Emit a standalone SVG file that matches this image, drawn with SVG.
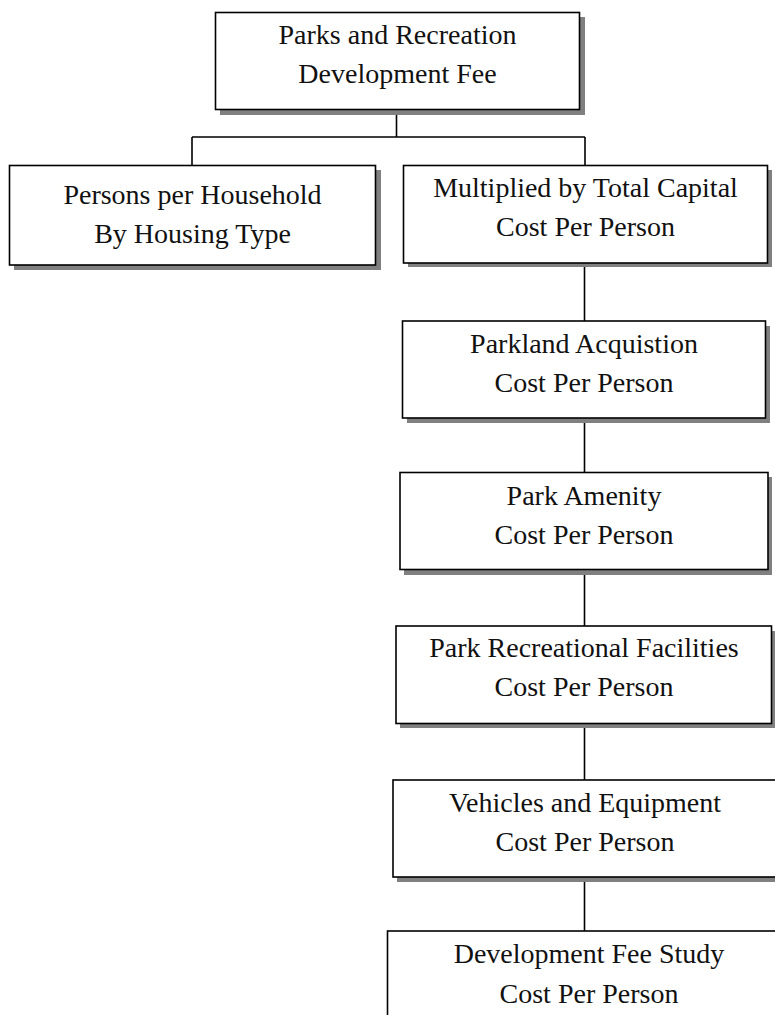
<svg xmlns="http://www.w3.org/2000/svg" width="775" height="1015" viewBox="0 0 775 1015">
  <style>
    .box { fill: #ffffff; stroke: #000000; stroke-width: 1.6; }
    .shadow { fill: #808080; }
    .label { font-family: "Liberation Serif", "Times New Roman", serif; font-size: 28px; fill: #111111; text-anchor: middle; }
    .wire { fill: none; stroke: #000000; stroke-width: 1.6; }
  </style>
  <rect width="775" height="1015" fill="#ffffff"/>

  <!-- connectors -->
  <g id="connectors">
    <path class="wire" d="M396.5,109 V137 M192,137 H585 M192,137 V165 M585,137 V165"/>
    <path class="wire" d="M584.5,263 V321 M584.5,418 V472 M584.5,569 V626 M584.5,723 V780 M584.5,877 V931"/>
  </g>

  <g id="node-fee">
    <rect class="shadow" x="220" y="17" width="365" height="98"/>
    <rect class="box" x="215.5" y="12.5" width="364" height="97"/>
    <text class="label" x="397.5" y="43.5">Parks and Recreation</text>
    <text class="label" x="397.5" y="83">Development Fee</text>
  </g>

  <g id="node-household">
    <rect class="shadow" x="14" y="170" width="367" height="100"/>
    <rect class="box" x="9.5" y="165.5" width="366" height="99.5"/>
    <text class="label" x="192.5" y="203.5">Persons per Household</text>
    <text class="label" x="192.5" y="243">By Housing Type</text>
  </g>

  <g id="node-capital">
    <rect class="shadow" x="408" y="170" width="364" height="97"/>
    <rect class="box" x="403.5" y="165.5" width="364" height="97.5"/>
    <text class="label" x="585.5" y="197">Multiplied by Total Capital</text>
    <text class="label" x="585.5" y="236">Cost Per Person</text>
  </g>

  <g id="node-parkland">
    <rect class="shadow" x="407" y="326" width="363" height="97"/>
    <rect class="box" x="402.5" y="321" width="363" height="97"/>
    <text class="label" x="584" y="353">Parkland Acquistion</text>
    <text class="label" x="584" y="392">Cost Per Person</text>
  </g>

  <g id="node-amenity">
    <rect class="shadow" x="404" y="477" width="368" height="98"/>
    <rect class="box" x="400" y="472.5" width="368" height="97"/>
    <text class="label" x="584" y="505">Park Amenity</text>
    <text class="label" x="584" y="543.5">Cost Per Person</text>
  </g>

  <g id="node-facilities">
    <rect class="shadow" x="400" y="631" width="376" height="97"/>
    <rect class="box" x="396" y="626" width="375.5" height="97.5"/>
    <text class="label" x="584" y="657">Park Recreational Facilities</text>
    <text class="label" x="584" y="696">Cost Per Person</text>
  </g>

  <g id="node-vehicles">
    <rect class="shadow" x="397" y="785" width="384" height="97"/>
    <rect class="box" x="393" y="780" width="384" height="97"/>
    <text class="label" x="585" y="812">Vehicles and Equipment</text>
    <text class="label" x="585" y="851">Cost Per Person</text>
  </g>

  <g id="node-study">
    <rect class="shadow" x="391" y="936" width="404" height="97"/>
    <rect class="box" x="387.5" y="931" width="403" height="97"/>
    <text class="label" x="589" y="962.5">Development Fee Study</text>
    <text class="label" x="589" y="1003">Cost Per Person</text>
  </g>
</svg>
